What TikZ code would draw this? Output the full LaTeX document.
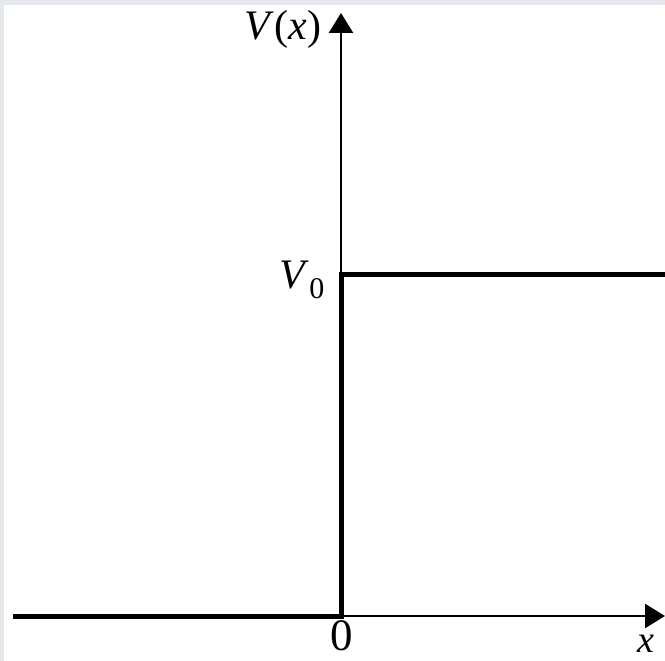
\documentclass[tikz,border=0pt]{standalone}
\usepackage{fontspec}
\setmainfont{Liberation Serif}
\usepackage{xcolor}
\usepackage{tikz}
\usetikzlibrary{arrows.meta}
\definecolor{scanframe}{HTML}{E4E8EC}

\begin{document}
\begin{tikzpicture}[
  x=1pt, y=-1pt,
  axis/.style={line width=2.6pt, -{Triangle[length=20pt,width=24pt]}},
  pot/.style={line width=5pt},
  lbl/.style={font=\fontsize{42}{46}\selectfont, inner sep=0pt}
]
\useasboundingbox (0,0) rectangle (665,661);
\fill[scanframe] (0,0) rectangle (665,661);
\fill[white] (4,5) rectangle (665,661);
% axes
\coordinate (orig) at (341,616);
\coordinate (xend) at (665,616);
\coordinate (yend) at (341,13);
\draw[axis] (orig) -- (xend);
\draw[axis] (orig) -- (yend);
% step potential
\coordinate (left) at (13,616);
\coordinate (step) at (341,274);
\coordinate (right) at (667,274);
\draw[pot] (left) -- (orig) -- (step) -- (right);
% labels
\node[lbl] (vlab) at (283,29) {\textit{V}(\textit{x})};
\node[lbl] (vzero) at (302,280) {\textit{V}\raisebox{-0.22em}{\fontsize{30}{32}\selectfont 0}};
\node[lbl, font=\fontsize{45}{50}\selectfont] (zero) at (342,636) {0};
\node[lbl, font=\fontsize{38}{42}\selectfont] (xlab) at (646,644) {\textit{x}};
\end{tikzpicture}
\end{document}
